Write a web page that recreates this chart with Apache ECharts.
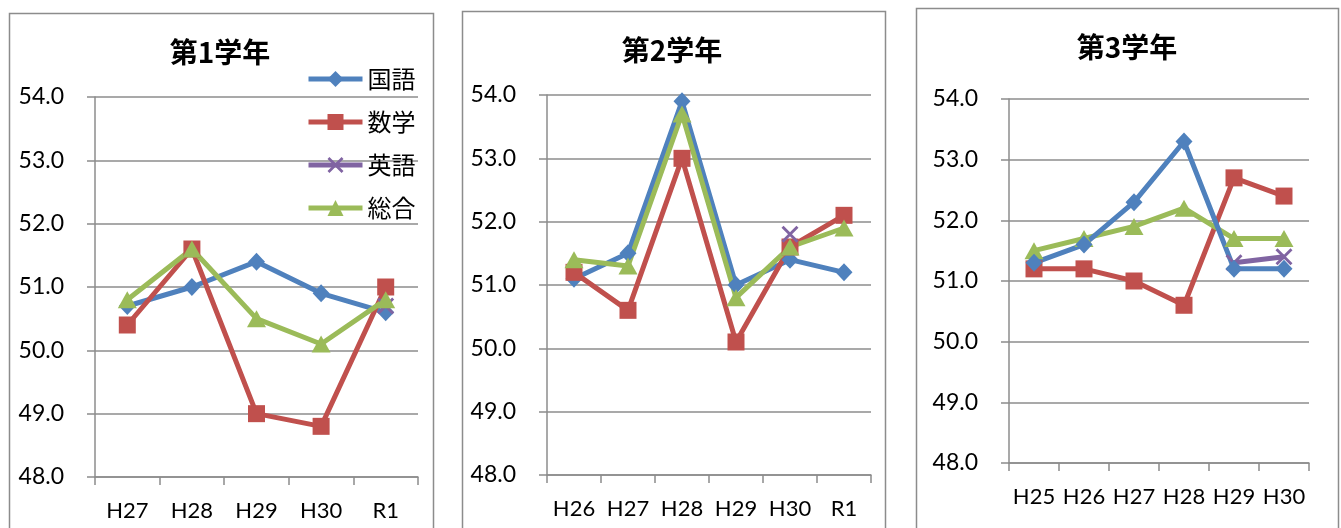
<!DOCTYPE html>
<html>
<head>
<meta charset="utf-8">
<script src="https://cdn.jsdelivr.net/npm/echarts@6/dist/echarts.min.js"></script>
<style>
html,body{margin:0;padding:0;background:#fff;}
#chart{width:1341px;height:528px;}
</style>
</head>
<body>
<div id="chart"></div>
<script>
// ---- data ----
const seriesNames = ['国語', '数学', '英語', '総合'];
const titles = ['第1学年', '第2学年', '第3学年'];
const yTicks = [48.0, 49.0, 50.0, 51.0, 52.0, 53.0, 54.0];

const cats1 = ['H27', 'H28', 'H29', 'H30', 'R1'];
const g1Kokugo = [50.7, 51.0, 51.4, 50.9, 50.6];
const g1Sugaku = [50.4, 51.6, 49.0, 48.8, 51.0];
const g1Eigo   = [null, null, null, null, 50.7];
const g1Sogo   = [50.8, 51.6, 50.5, 50.1, 50.8];

const cats2 = ['H26', 'H27', 'H28', 'H29', 'H30', 'R1'];
const g2Kokugo = [51.1, 51.5, 53.9, 51.0, 51.4, 51.2];
const g2Sugaku = [51.2, 50.6, 53.0, 50.1, 51.6, 52.1];
const g2Eigo   = [null, null, null, null, 51.8, null];
const g2Sogo   = [51.4, 51.3, 53.7, 50.8, 51.6, 51.9];

const cats3 = ['H25', 'H26', 'H27', 'H28', 'H29', 'H30'];
const g3Kokugo = [51.3, 51.6, 52.3, 53.3, 51.2, 51.2];
const g3Sugaku = [51.2, 51.2, 51.0, 50.6, 52.7, 52.4];
const g3Eigo   = [null, null, null, null, 51.3, 51.4];
const g3Sogo   = [51.5, 51.7, 51.9, 52.2, 51.7, 51.7];

// ---- styles ----
const colors = {'国語': '#4F81BD', '数学': '#C0504D', '英語': '#8064A2', '総合': '#9BBB59'};
const symbols = {
  '国語': 'diamond',
  '数学': 'rect',
  '英語': 'path://M0,1.2L1.2,0L10,8.8L8.8,10Z M8.8,0L10,1.2L1.2,10L0,8.8Z',
  '総合': 'triangle'
};
const symbolSizes = {'国語': [17, 18], '数学': 17, '英語': 17, '総合': [19, 17]};
const gridColor = '#8c8c8c';
const labelFont = 'Lato, "Liberation Sans", sans-serif';
const cjkFont = '"Noto Sans CJK JP", sans-serif';

const grids = [
  {left: 95, top: 97, width: 323, height: 380},
  {left: 547, top: 95, width: 324, height: 380},
  {left: 1009, top: 99, width: 300, height: 364}
];
const catsList = [cats1, cats2, cats3];
const dataList = [
  {'国語': g1Kokugo, '数学': g1Sugaku, '英語': g1Eigo, '総合': g1Sogo},
  {'国語': g2Kokugo, '数学': g2Sugaku, '英語': g2Eigo, '総合': g2Sogo},
  {'国語': g3Kokugo, '数学': g3Sugaku, '英語': g3Eigo, '総合': g3Sogo}
];
const drawOrder = [
  ['国語', '数学', '英語', '総合'],
  ['国語', '数学', '英語', '総合'],
  ['数学', '総合', '英語', '国語']
];

const xAxes = catsList.map((c, i) => ({
  type: 'category', gridIndex: i, data: c, boundaryGap: true,
  axisLine: {show: true, lineStyle: {color: gridColor, width: 1.5}},
  axisTick: {show: true, length: 8, inside: false, alignWithLabel: false, lineStyle: {color: gridColor, width: 1.5}},
  axisLabel: {color: '#000', fontSize: 22, fontFamily: labelFont, margin: 23, interval: 0},
  splitLine: {show: false}
}));
const yAxes = grids.map((g, i) => ({
  type: 'value', gridIndex: i,
  min: yTicks[0], max: yTicks[yTicks.length - 1], interval: 1,
  axisLine: {show: true, lineStyle: {color: gridColor, width: 1.5}},
  axisTick: {show: true, length: 8, lineStyle: {color: gridColor, width: 1.5}},
  axisLabel: {color: '#000', fontSize: 23, fontFamily: labelFont, margin: 31,
    formatter: v => v.toFixed(1)},
  splitLine: {show: true, lineStyle: {color: gridColor, width: 1.5}}
}));

const series = [];
dataList.forEach((d, i) => {
  drawOrder[i].forEach(name => {
    series.push({
      name: name, type: 'line', xAxisIndex: i, yAxisIndex: i,
      data: d[name], connectNulls: false,
      symbol: symbols[name], symbolSize: symbolSizes[name], showAllSymbol: true,
      lineStyle: {color: colors[name], width: 5},
      itemStyle: {color: colors[name]},
      emphasis: {disabled: true}
    });
  });
});

const titlePos = [[220, 52], [672, 50], [1127, 47]];
const borders = [[9.5, 13.5, 424], [462.5, 11.5, 423], [916.5, 8.5, 422]];
const graphic = [];
borders.forEach(b => graphic.push({
  type: 'rect', silent: true, z: -10,
  shape: {x: b[0], y: b[1], width: b[2], height: 700},
  style: {fill: 'none', stroke: gridColor, lineWidth: 1.5}
}));
titles.forEach((t, i) => graphic.push({
  type: 'text', x: titlePos[i][0], y: titlePos[i][1],
  style: {text: t, align: 'center', verticalAlign: 'middle',
    font: 'bold 28px ' + cjkFont, fill: '#000'}
}));

const chart = echarts.init(document.getElementById('chart'), null, {renderer: 'canvas'});
chart.setOption({
  animation: false,
  backgroundColor: '#fff',
  grid: grids.map(g => Object.assign({containLabel: false}, g)),
  xAxis: xAxes,
  yAxis: yAxes,
  legend: {
    data: seriesNames, orient: 'vertical', left: 306, top: 66,
    itemWidth: 54, itemHeight: 20, itemGap: 17, selectedMode: false,
    lineStyle: {width: 5},
    textStyle: {fontSize: 24, fontFamily: cjkFont, color: '#000', lineHeight: 26, padding: [0, 0, 0, 0]},
    padding: 0
  },
  graphic: graphic,
  series: series
});
</script>
</body>
</html>
